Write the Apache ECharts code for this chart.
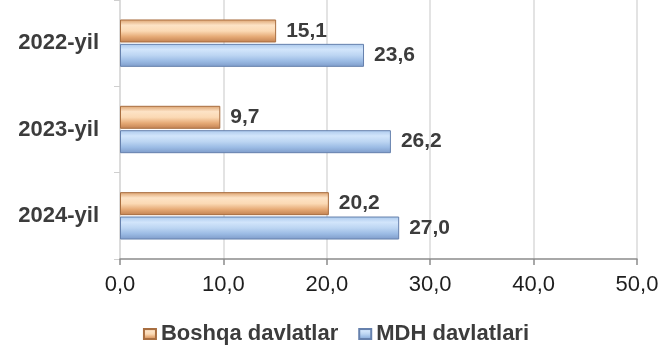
<!DOCTYPE html>
<html>
<head>
<meta charset="utf-8">
<script src="https://cdn.jsdelivr.net/npm/echarts@6/dist/echarts.min.js"></script>
<style>
  html, body { margin: 0; padding: 0; background: #fff; }
  #chart { width: 672px; height: 354px; }
</style>
</head>
<body>
<div id="chart"></div>
<script>
  const categories = ['2022-yil', '2023-yil', '2024-yil'];
  const boshqaValues = [15.1, 9.7, 20.2];
  const mdhValues = [23.6, 26.2, 27.0];
  const seriesNames = ['Boshqa davlatlar', 'MDH davlatlari'];

  const fmt = (v) => Number(v).toFixed(1).replace('.', ',');

  const grad = (stops) => new echarts.graphic.LinearGradient(0, 0, 0, 1,
    stops.map((c, i) => ({ offset: i / (stops.length - 1), color: c })));

  const orangeFill = grad(['#dba06c', '#fde3c6', '#fbd9b4', '#e6aa76', '#c08050']);
  const blueFill = grad(['#aac8ec', '#d2e5fb', '#bcd5f2', '#9bbbe4', '#7e9bc9']);

  const labelStyle = {
    show: true,
    position: 'right',
    distance: 10,
    fontFamily: 'Liberation Sans, Arial, sans-serif',
    fontSize: 21,
    fontWeight: 'bold',
    color: '#3c3c3c',
    formatter: (p) => fmt(p.value),
  };

  const chart = echarts.init(document.getElementById('chart'));
  chart.setOption({
    animation: false,
    textStyle: { fontFamily: 'Liberation Sans, Arial, sans-serif' },
    grid: { left: 120, right: 35, top: -1, height: 260, containLabel: false },
    legend: {
      top: 318,
      left: 'center',
      itemWidth: 12,
      itemHeight: 10,
      itemGap: 20,
      icon: 'rect',
      textStyle: { fontSize: 22, fontWeight: 'bold', color: '#3c3c3c' },
      data: seriesNames,
    },
    xAxis: {
      type: 'value',
      min: 0,
      max: 50,
      interval: 10,
      axisLine: { show: true, lineStyle: { color: '#8c8c8c', width: 1.5 } },
      axisTick: { show: true, length: 6, lineStyle: { color: '#8c8c8c', width: 1.5 } },
      axisLabel: { fontSize: 22, color: '#1e1e1e', margin: 15, formatter: (v) => fmt(v) },
      splitLine: { show: true, lineStyle: { color: '#dadada', width: 1.5 } },
    },
    yAxis: {
      type: 'category',
      inverse: true,
      data: categories,
      axisLine: { show: true, lineStyle: { color: '#dadada', width: 1.5 } },
      axisTick: { show: true, length: 6, lineStyle: { color: '#cfcfcf' } },
      axisLabel: { fontSize: 22, fontWeight: 'bold', color: '#3c3c3c', margin: 21 },
    },
    series: [
      {
        name: seriesNames[0],
        type: 'bar',
        data: boshqaValues,
        barWidth: 23,
        barGap: '6%',
        itemStyle: { color: orangeFill, borderColor: '#a86e40', borderWidth: 1 },
        label: labelStyle,
      },
      {
        name: seriesNames[1],
        type: 'bar',
        data: mdhValues,
        barWidth: 23,
        itemStyle: { color: blueFill, borderColor: '#6681ad', borderWidth: 1 },
        label: labelStyle,
      },
    ],
  });
</script>
</body>
</html>
